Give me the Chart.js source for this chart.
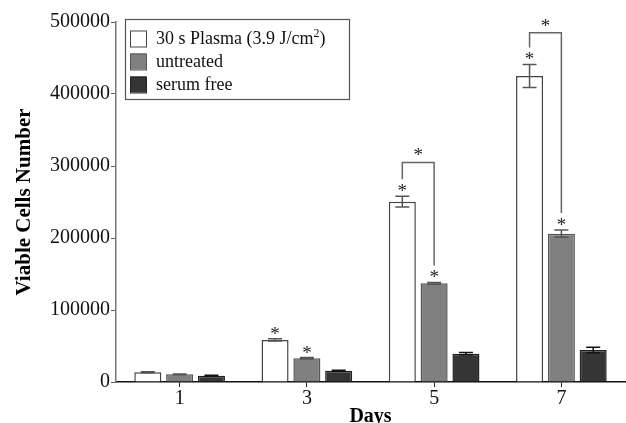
<!DOCTYPE html>
<html>
<head>
<meta charset="utf-8">
<script src="https://cdn.jsdelivr.net/npm/chart.js@4/dist/chart.umd.min.js"></script>
<style>
  html, body { margin: 0; padding: 0; background: #fff; }
  canvas { display: block; }
</style>
</head>
<body>
<canvas id="cells" width="626" height="423"></canvas>
<script>
// chart data
const days = ["1", "3", "5", "7"];
const plasma = [13500, 58500, 250500, 425000];
const plasmaErr = [800, 1500, 7500, 16000];
const untreated = [10700, 33000, 137000, 206000];
const untreatedErr = [500, 1000, 1200, 5000];
const serumFree = [8800, 15700, 39300, 44400];
const serumFreeErr = [500, 600, 1500, 3800];
const yTicks = [0, 100000, 200000, 300000, 400000, 500000];

// significance marks
const starPlasma = [false, true, true, true];
const starUntreated = [false, true, true, true];
const bracketTop = [null, null, 305000, 485000];

const serif = "'Liberation Serif', 'Times New Roman', serif";

// error bars, asterisks and brackets
const marksPlugin = {
  id: "marks",
  afterDatasetsDraw(chart) {
    const ctx = chart.ctx;
    const y = chart.scales.y;
    const errs = [plasmaErr, untreatedErr, serumFreeErr];
    const stars = [starPlasma, starUntreated, null];
    const starY = [];

    ctx.save();
    chart.data.datasets.forEach((ds, i) => {
      const meta = chart.getDatasetMeta(i);
      starY[i] = [];
      meta.data.forEach((bar, j) => {
        const v = ds.data[j];
        const e = errs[i][j];
        const top = y.getPixelForValue(v + e);
        const bot = y.getPixelForValue(v - e);
        ctx.strokeStyle = i === 2 ? "#111" : "#555";
        ctx.lineWidth = 1.5;
        ctx.beginPath();
        ctx.moveTo(bar.x, top);
        ctx.lineTo(bar.x, bot);
        ctx.moveTo(bar.x - 7, top);
        ctx.lineTo(bar.x + 7, top);
        ctx.moveTo(bar.x - 7, bot);
        ctx.lineTo(bar.x + 7, bot);
        ctx.stroke();
        starY[i][j] = top - 8;
        if (stars[i] && stars[i][j]) {
          ctx.fillStyle = "#222";
          ctx.font = "19px " + serif;
          ctx.textAlign = "center";
          ctx.textBaseline = "middle";
          ctx.fillText("*", bar.x, top - 4);
        }
      });
    });

    // brackets between plasma and untreated
    const mp = chart.getDatasetMeta(0);
    const mu = chart.getDatasetMeta(1);
    bracketTop.forEach((bt, j) => {
      if (bt === null) return;
      const xl = mp.data[j].x;
      const xr = mu.data[j].x;
      const yt = y.getPixelForValue(bt);
      ctx.strokeStyle = "#666";
      ctx.lineWidth = 1.5;
      ctx.beginPath();
      ctx.moveTo(xl, starY[0][j] - 9);
      ctx.lineTo(xl, yt);
      ctx.lineTo(xr, yt);
      ctx.lineTo(xr, starY[1][j] - 9);
      ctx.stroke();
      ctx.fillStyle = "#222";
      ctx.font = "19px " + serif;
      ctx.textAlign = "center";
      ctx.textBaseline = "middle";
      ctx.fillText("*", (xl + xr) / 2, yt - 6);
    });
    ctx.restore();
  }
};

// boxed legend inside the plot
const legendPlugin = {
  id: "boxLegend",
  afterDraw(chart) {
    const ctx = chart.ctx;
    const left = 125, top = 19, w = 224, h = 80;
    ctx.save();
    ctx.fillStyle = "#fff";
    ctx.fillRect(left, top, w, h);
    ctx.strokeStyle = "#555";
    ctx.lineWidth = 1.2;
    ctx.strokeRect(left + 0.5, top + 0.5, w, h);
    chart.data.datasets.forEach((ds, i) => {
      const cy = 38.5 + i * 23;
      ctx.fillStyle = ds.backgroundColor;
      ctx.fillRect(130, cy - 8, 16, 16);
      ctx.strokeStyle = ds.borderColor;
      ctx.lineWidth = 1;
      ctx.strokeRect(130.5, cy - 7.5, 16, 16);
      ctx.fillStyle = "#111";
      ctx.textAlign = "left";
      ctx.textBaseline = "middle";
      ctx.font = "18px " + serif;
      const parts = ds.label.split("²");
      let x = 156;
      ctx.fillText(parts[0], x, cy + 1);
      if (parts.length > 1) {
        x += ctx.measureText(parts[0]).width;
        ctx.font = "12px " + serif;
        ctx.fillText("2", x, cy - 5);
        x += ctx.measureText("2").width;
        ctx.font = "18px " + serif;
        ctx.fillText(parts[1], x, cy + 1);
      }
    });
    ctx.restore();
  }
};

new Chart(document.getElementById("cells"), {
  type: "bar",
  data: {
    labels: days,
    datasets: [
      {
        label: "30 s Plasma (3.9 J/cm²)",
        data: plasma,
        backgroundColor: "#ffffff",
        borderColor: "#444",
        borderWidth: 1.5
      },
      {
        label: "untreated",
        data: untreated,
        backgroundColor: "#808080",
        borderColor: "#555",
        borderWidth: 1.5
      },
      {
        label: "serum free",
        data: serumFree,
        backgroundColor: "#353535",
        borderColor: "#222",
        borderWidth: 1.5
      }
    ]
  },
  options: {
    responsive: false,
    animation: false,
    devicePixelRatio: 1,
    categoryPercentage: 0.75,
    barPercentage: 0.85,
    layout: { padding: { top: 22, right: 1, left: 0, bottom: 0 } },
    plugins: {
      legend: { display: false },
      tooltip: { enabled: false }
    },
    scales: {
      x: {
        grid: { offset: false, drawOnChartArea: false, drawTicks: true, tickLength: 5, color: "#222" },
        border: { color: "#111", width: 1.5 },
        ticks: { color: "#111", font: { family: serif, size: 20 }, padding: 0 },
        title: {
          display: true,
          text: "Days",
          color: "#000",
          font: { family: serif, size: 20, weight: "bold" },
          padding: { top: 0, bottom: -6 }
        },
        afterFit(scale) { scale.height = 41; }
      },
      y: {
        min: 0,
        max: 500000,
        afterBuildTicks(scale) { scale.ticks = yTicks.map(v => ({ value: v })); },
        grid: { drawOnChartArea: false, drawTicks: true, tickLength: 5, color: "#666" },
        border: { color: "#777", width: 1.5 },
        ticks: {
          color: "#111",
          font: { family: serif, size: 20 },
          padding: 1,
          callback: v => String(v)
        },
        title: {
          display: true,
          text: "Viable Cells Number",
          color: "#000",
          font: { family: serif, size: 21, weight: "bold" },
          padding: { top: 12, bottom: 0 }
        },
        afterFit(scale) { scale.width = 116; }
      }
    }
  },
  plugins: [marksPlugin, legendPlugin]
});
</script>
</body>
</html>
